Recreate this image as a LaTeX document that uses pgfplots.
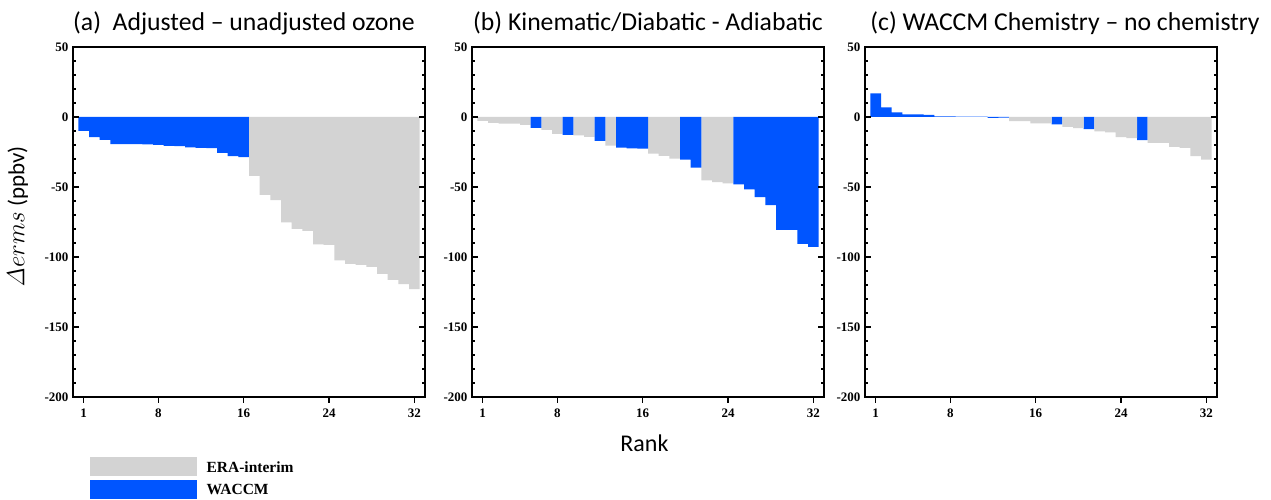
\documentclass[border=0pt]{standalone}
\usepackage[no-math]{fontspec}
\setmainfont{Liberation Serif}
\newfontfamily\carlito{Carlito}
\usepackage{pgfplots}
\pgfplotsset{compat=1.18}
\definecolor{wblue}{RGB}{0,85,255}
\definecolor{egray}{RGB}{211,211,211}
\pgfplotsset{
  panel/.style={
    width=352pt, height=350pt, scale only axis,
    xmin=0, xmax=33, ymin=-200, ymax=50,
    xtick={1,8,16,24,32}, xticklabels={1,8,16,24,32},
    ytick={-200,-150,-100,-50,0,50},
    yticklabels={-200,-150,-100,-50,0,50},
    minor y tick num=4,
    xtick pos=lower, ytick pos=both,
    tick align=inside,
    major tick length=6pt, minor tick length=3pt,
    every tick/.style={black, line width=1.2pt},
    axis line style={line width=1.6pt},
    tick label style={font=\fontsize{13}{14}\selectfont\bfseries},
    xticklabel style={yshift=-2pt},
    yticklabel style={xshift=-1pt},
    axis on top,
    ybar, bar width=1,
    title style={font=\carlito\fontsize{25.7}{28}\selectfont, at={(0.5,1)}, anchor=base, yshift=10pt},
  },
}
\begin{document}
\begin{tikzpicture}
\useasboundingbox (0,0) rectangle (1271pt,500pt);
% ---------------- (a)
\begin{axis}[panel, at={(73pt,103pt)}, anchor=south west,
  title={(a)\ \ Adjusted – unadjusted ozone}, title style={xshift=-5pt},
  ylabel={{\fontsize{25}{28}\selectfont$\mathit{\Delta}\mathnormal{erms}$} (ppbv)},
  ylabel style={font=\carlito\fontsize{23}{28}\selectfont, at={(axis description cs:-0.157,0.514)}, anchor=center},
  legend style={draw=none, fill=none, inner sep=0pt, row sep=4pt,
    legend cell align=left, at={(axis description cs:0.0483,-0.1714)}, anchor=north west,
    font=\fontsize{15.5}{16}\selectfont\bfseries,
    nodes={inner sep=0pt}},
]
\addlegendimage{legend image code/.code={\fill[egray] (0pt,-9pt) rectangle (106pt,9pt); \path (116pt,0pt);}}
\addlegendentry{\raisebox{-3pt}{ERA-interim}}
\addlegendimage{legend image code/.code={\fill[wblue] (0pt,-9pt) rectangle (106pt,9pt); \path (116pt,0pt);}}
\addlegendentry{\raisebox{-3pt}{WACCM}}
\addplot[fill=wblue, draw=none, bar shift=0pt, forget plot] coordinates {
(1,-10) (2,-14.3) (3,-16.4) (4,-19.3) (5,-19.4) (6,-19.4) (7,-19.5) (8,-20)
(9,-20.7) (10,-20.8) (11,-21.7) (12,-22.1) (13,-22.2) (14,-25.7) (15,-27.9) (16,-28.6)};
\addplot[fill=egray, draw=none, bar shift=0pt, forget plot] coordinates {
(17,-42.1) (18,-55.7) (19,-59.3) (20,-75.2) (21,-80) (22,-81.4) (23,-91) (24,-91.4)
(25,-102.4) (26,-105) (27,-105.7) (28,-107.1) (29,-112.1) (30,-116.4) (31,-119.3) (32,-122.9)};
\end{axis}
% ---------------- (b)
\begin{axis}[panel, at={(472pt,103pt)}, anchor=south west,
  title={(b) Kinematic/Diabatic - Adiabatic},
  xlabel={Rank},
  xlabel style={font=\carlito\fontsize{24}{28}\selectfont, at={(axis description cs:0.49,0)}, anchor=base, yshift=-55pt},
]
\addplot[fill=egray, draw=none, bar shift=0pt] coordinates {
(1,-2.8) (2,-4.2) (3,-4.8) (4,-4.8) (5,-5.7) (7,-9.2) (8,-12) (10,-13.2) (11,-14.2)
(13,-20.5) (17,-26.2) (18,-27.8) (19,-29.7) (22,-45.3) (23,-46.5) (24,-47.4)};
\addplot[fill=wblue, draw=none, bar shift=0pt] coordinates {
(6,-7.8) (9,-12.7) (12,-17) (14,-21.9) (15,-22.4) (16,-22.6) (20,-30.4) (21,-36.1)
(25,-48.1) (26,-51.7) (27,-57.3) (28,-63) (29,-80.7) (30,-80.7) (31,-90.6) (32,-92.7)};
\end{axis}
% ---------------- (c)
\begin{axis}[panel, at={(865pt,103pt)}, anchor=south west,
  title={(c) WACCM Chemistry – no chemistry}, title style={xshift=24pt},
]
\addplot[fill=wblue, draw=none, bar shift=0pt] coordinates {
(1,16.8) (2,6.9) (3,3.3) (4,1.8) (5,1.8) (6,1.5) (7,0.5) (8,0.5) (9,0.3) (10,0.3) (11,0.3)
(12,-0.6) (13,-0.4) (18,-5.2) (21,-8.7) (26,-16.5)};
\addplot[fill=egray, draw=none, bar shift=0pt] coordinates {
(14,-2.9) (15,-2.9) (16,-4.5) (17,-4.5) (19,-7.1) (20,-8) (22,-10.2) (23,-10.9)
(24,-14.4) (25,-15.1) (27,-18.4) (28,-18.4) (29,-21.3) (30,-22) (31,-27.9) (32,-30.5)};
\end{axis}
\end{tikzpicture}
\end{document}
